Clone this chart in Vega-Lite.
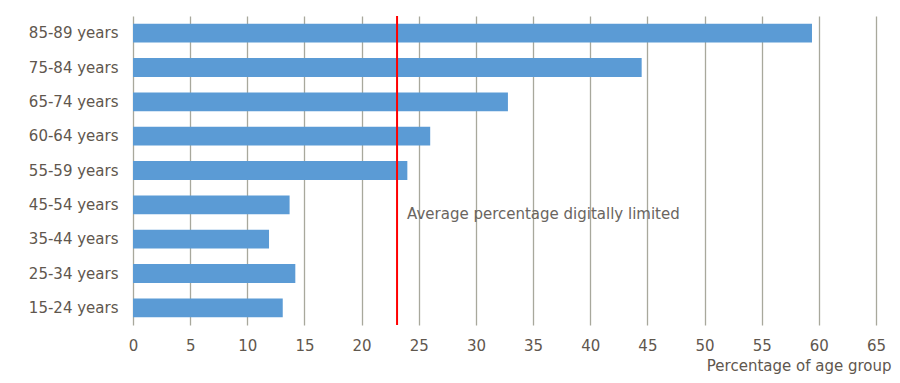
{
  "$schema": "https://vega.github.io/schema/vega-lite/v6.json",
  "width": 743,
  "height": 309,
  "autosize": {"type": "none"},
  "padding": {"left": 133, "top": 16, "right": 24, "bottom": 58},
  "background": "white",
  "config": {
    "view": {"stroke": null},
    "font": "DejaVu Sans",
    "axis": {"labelFont": "DejaVu Sans", "titleFont": "DejaVu Sans"}
  },
  "datasets": {
    "bars": [
      {"age": "85-89 years", "pct": 59.4},
      {"age": "75-84 years", "pct": 44.5},
      {"age": "65-74 years", "pct": 32.8},
      {"age": "60-64 years", "pct": 26.0},
      {"age": "55-59 years", "pct": 24.0},
      {"age": "45-54 years", "pct": 13.7},
      {"age": "35-44 years", "pct": 11.9},
      {"age": "25-34 years", "pct": 14.2},
      {"age": "15-24 years", "pct": 13.1}
    ],
    "avg": [
      {"avg": 23.1, "label": "Average percentage digitally limited", "age": "45-54 years"}
    ]
  },
  "layer": [
    {
      "data": {"name": "bars"},
      "mark": {"type": "bar", "color": "#5B9BD5"},
      "encoding": {
        "y": {
          "field": "age", "type": "nominal", "sort": null,
          "scale": {"paddingInner": 0.45, "paddingOuter": 0.225},
          "axis": {"title": null, "domain": false, "ticks": false, "labelPadding": 15, "labelFontSize": 15, "labelColor": "#5f574e", "grid": false}
        },
        "x": {
          "field": "pct", "type": "quantitative",
          "scale": {"domain": [0, 65], "nice": false},
          "axis": {
            "values": [0, 5, 10, 15, 20, 25, 30, 35, 40, 45, 50, 55, 60, 65],
            "title": "Percentage of age group",
            "titleFontSize": 15, "titleFontWeight": "normal", "titleColor": "#5f574e",
            "titleAnchor": "end", "titleAlign": "right", "titleBaseline": "middle", "titleX": 758, "titleY": 40,
            "labelFontSize": 15, "labelColor": "#5f574e", "labelPadding": 13, "labelFlush": false,
            "domain": false, "ticks": false,
            "grid": true, "gridColor": "#a8a89c", "gridWidth": 1.3
          }
        }
      }
    },
    {
      "data": {"name": "avg"},
      "mark": {"type": "rule", "color": "#FF0000", "strokeWidth": 2},
      "encoding": {"x": {"field": "avg", "type": "quantitative"}}
    },
    {
      "data": {"name": "avg"},
      "mark": {"type": "text", "align": "left", "baseline": "middle", "dx": 10, "dy": 9, "fontSize": 15, "color": "#6a6560"},
      "encoding": {
        "x": {"field": "avg", "type": "quantitative"},
        "y": {"field": "age", "type": "nominal", "sort": null},
        "text": {"field": "label"}
      }
    }
  ]
}
